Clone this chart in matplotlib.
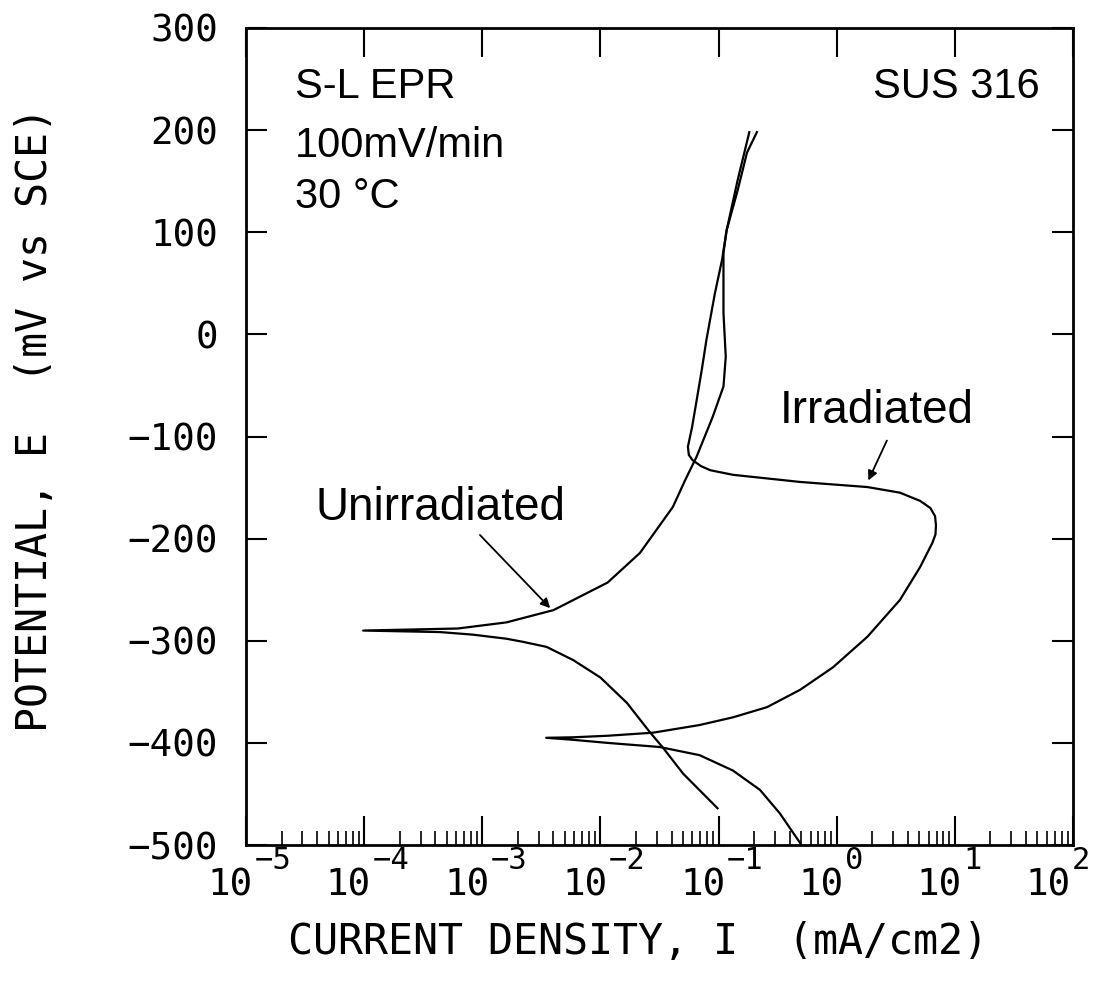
import numpy as np
import matplotlib.pyplot as plt
from matplotlib.ticker import LogLocator, NullFormatter

plt.rcParams['font.family'] = ['DejaVu Sans Mono']

# Unirradiated: cathodic branch (bottom -> Ecorr), then anodic branch up to +200 mV
unirr_i = [0.098, 0.050, 0.034, 0.026, 0.0168, 0.0100, 0.0059, 0.0035, 0.0022, 0.0016,
           0.00083, 0.00044, 0.000098, 0.00062, 0.0016, 0.0040, 0.0115, 0.0216, 0.041,
           0.052, 0.065, 0.089, 0.110, 0.115, 0.110, 0.110, 0.117, 0.145, 0.174, 0.211]
unirr_e = [-464, -430, -405, -389, -361, -336, -319, -306, -301, -298,
           -294, -291.5, -290, -288, -282, -270, -243, -214, -169,
           -143, -120, -81, -51, -22, 21, 80, 102, 141, 178, 198]

# Irradiated
irr_i = [0.49, 0.33, 0.224, 0.132, 0.069, 0.0316, 0.0115, 0.0059, 0.00347,
         0.0059, 0.0115, 0.0279, 0.069, 0.132, 0.257, 0.49, 0.93, 1.82, 3.43, 5.07,
         6.46, 6.85, 6.92, 6.80, 6.20, 5.07, 3.43, 1.82, 0.49, 0.132, 0.085, 0.071, 0.060,
         0.056, 0.055, 0.0596, 0.066, 0.072, 0.079, 0.093, 0.107, 0.117, 0.145, 0.182]
irr_e = [-498, -469, -446, -427, -412, -404, -400, -397, -395,
         -394.5, -393, -390, -382.5, -375, -365, -348, -326, -296, -260, -228,
         -204, -196, -187, -178, -170, -163, -155, -149.5, -144.5, -137.5, -133, -129, -123,
         -118, -110, -91, -61, -35, -5, 40, 73, 102, 151, 198]

x_decades = [-5, -4, -3, -2, -1, 0, 1, 2]
y_ticks = [-500, -400, -300, -200, -100, 0, 100, 200, 300]

fig = plt.figure(figsize=(10.93, 9.85), dpi=100)
ax = fig.add_axes([0.2251, 0.1421, 0.7566, 0.8295])

ax.plot(unirr_i, unirr_e, color='black', lw=1.6)
ax.plot(irr_i, irr_e, color='black', lw=1.6)

ax.set_xscale('log')
ax.set_xlim(1e-5, 1e2)
ax.set_ylim(-500, 300)
ax.set_yticks(y_ticks)

ax.xaxis.set_major_locator(LogLocator(base=10, numticks=10))
ax.xaxis.set_minor_locator(LogLocator(base=10, subs=np.arange(2, 10), numticks=10))
ax.xaxis.set_major_formatter(NullFormatter())
ax.xaxis.set_minor_formatter(NullFormatter())

ax.tick_params(axis='x', which='major', direction='in', length=21, width=1.5,
               top=True, bottom=True)
ax.tick_params(axis='x', which='minor', direction='in', length=10, width=1.2,
               top=False, bottom=True)
ax.tick_params(axis='y', which='major', direction='in', length=15, width=1.5,
               left=True, right=True, labelsize=27, pad=20)
for s in ax.spines.values():
    s.set_linewidth(2)

# x tick labels as 10 with raised exponent (last one pulled in to stay on the page)
for k in x_decades:
    dx = -7 if k == x_decades[-1] else 0
    ax.annotate('10', xy=(10.0 ** k, 0), xycoords=('data', 'axes fraction'),
                xytext=(5 + dx, -29), textcoords='offset points', ha='right', va='center',
                fontsize=27, annotation_clip=False)
    ax.annotate(str(k).replace('-', '\u2212'), xy=(10.0 ** k, 0),
                xycoords=('data', 'axes fraction'), xytext=(6 + dx, -11),
                textcoords='offset points', ha='left', va='center',
                fontsize=22, annotation_clip=False)

fig.text(0.584, 0.044, 'CURRENT DENSITY, I  (mA/cm2)', ha='center', va='center', fontsize=30)
fig.text(0.032, 0.574, 'POTENTIAL, E  (mV vs SCE)', ha='center', va='center',
         rotation=90, fontsize=30)

lab = dict(family=['Liberation Sans', 'DejaVu Sans'], fontsize=30, va='baseline',
           transform=ax.transAxes)
ax.text(0.059, 0.914, 'S-L EPR', **lab)
ax.text(0.059, 0.842, '100mV/min', **lab)
ax.text(0.059, 0.780, '30 °C', **lab)
ax.text(0.960, 0.914, 'SUS 316', ha='right', **lab)

ax.text(3.9e-5, -182, 'Unirradiated', family=['Liberation Sans', 'DejaVu Sans'],
        fontsize=33, va='baseline')
ax.text(0.331, -87, 'Irradiated', family=['Liberation Sans', 'DejaVu Sans'],
        fontsize=33, va='baseline')

arr = dict(arrowstyle='-|>', color='black', lw=1.3, mutation_scale=14)
ax.annotate('', xy=(3.9e-3, -270), xytext=(9.2e-4, -194.5), arrowprops=arr)
ax.annotate('', xy=(1.81, -145.5), xytext=(2.72, -101.5), arrowprops=arr)

fig.savefig('out.png', dpi=100)
